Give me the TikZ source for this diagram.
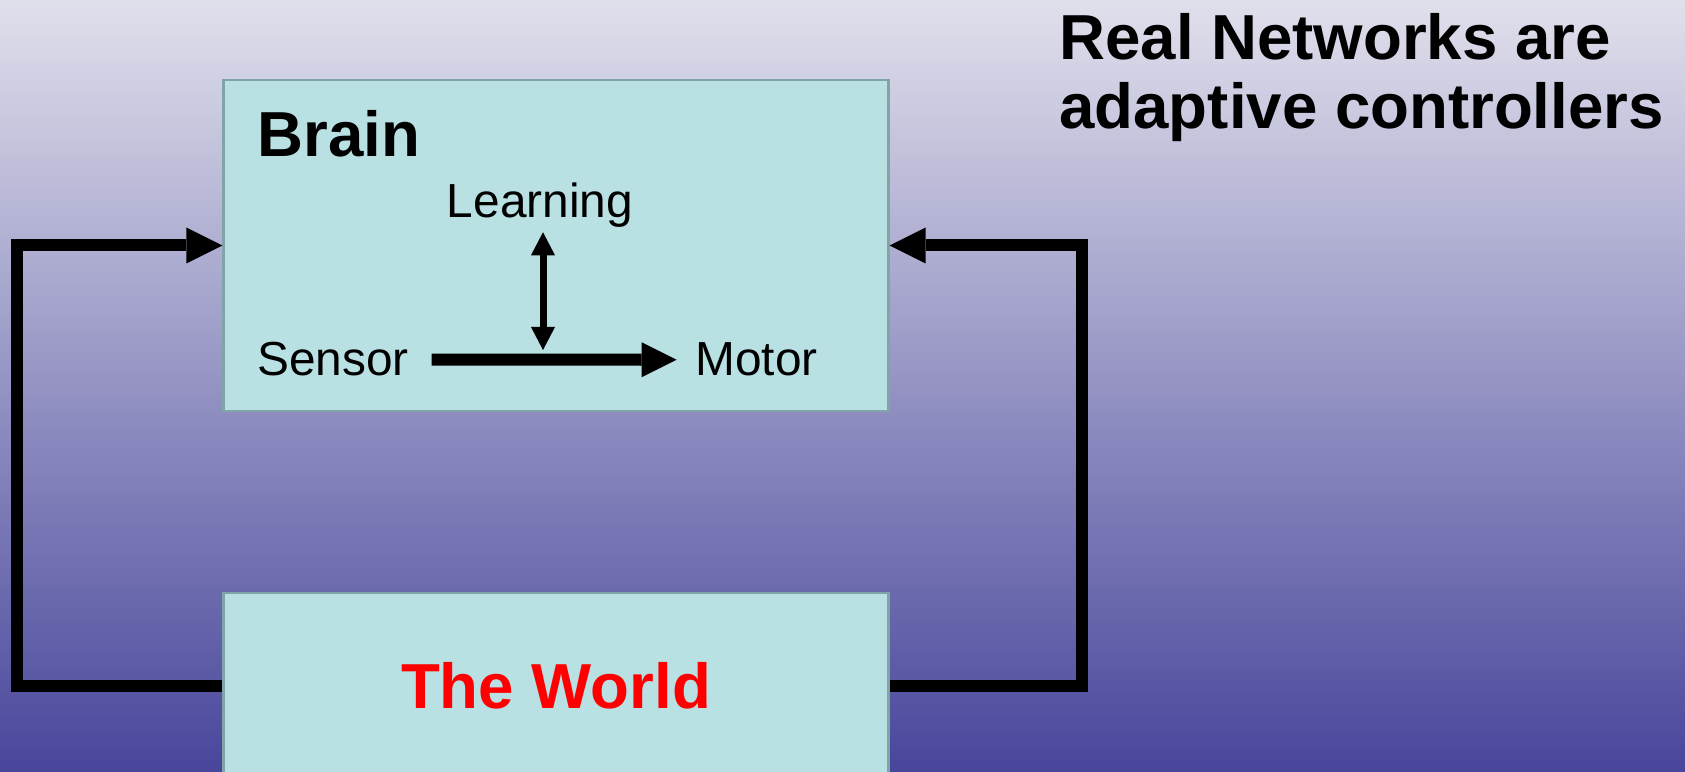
\documentclass[tikz,border=0pt]{standalone}
\usepackage{fontspec}
\setmainfont{Liberation Sans}
\usetikzlibrary{arrows.meta, positioning}

\definecolor{boxfill}{RGB}{185,224,226}
\definecolor{boxline}{RGB}{128,164,168}
\definecolor{skytop}{RGB}{224,224,236}
\definecolor{skybottom}{RGB}{72,70,155}

\begin{document}
\begin{tikzpicture}[
        block/.style={draw=boxline, line width=1.2pt, fill=boxfill, minimum width=13.3cm, inner sep=0pt},
        heading/.style={font=\fontsize{36.2}{39.5}\selectfont\bfseries, inner sep=0pt},
        word/.style={font=\fontsize{27.2}{31}\selectfont, inner sep=0pt},
        feedback/.style={-{Triangle[length=7.2mm, width=7.2mm, line width=0pt]}, line width=2.4mm, line join=miter},
        flow/.style={-{Triangle[length=7mm, width=7mm, line width=0pt]}, line width=2.4mm},
        learn/.style={{Triangle[length=4.6mm, width=4.8mm, line width=0pt]}-{Triangle[length=4.6mm, width=4.8mm, line width=0pt]}, line width=1.4mm}
        ]

        % Background
        \useasboundingbox (0,0) rectangle (33.7,15.44);
        \clip (0,0) rectangle (33.7,15.44);
        \shade[top color=skytop, bottom color=skybottom] (0,0) rectangle (33.7,15.44);

        % Nodes
        \node[block, minimum height=6.62cm] (brain) at (11.12,10.53) {};
        \node[block, heading, minimum height=3.72cm, text=red] (world) at (11.12,1.72) {The World};

        % Inside the brain
        \node[heading, anchor=base west] (brainname) at (5.14,12.31) {Brain};
        \node[word, anchor=base west] (learning) at (8.93,11.09) {Learning};
        \node[word, anchor=base west] (sensor) at (5.14,7.92) {Sensor};
        \node[word, base right=5.72cm of sensor] (motor) {Motor};
        \coordinate (tap) at (10.86,8.44);

        % Arrows
        \draw[flow] ([xshift=4.5mm]sensor.east) -- ([xshift=-3.7mm]motor.west);
        \draw[learn] ([yshift=-0.9mm]learning.south -| tap) -- (tap);

        % Loop through the world
        \coordinate (leftturn) at (0.33,10.53);
        \coordinate (rightturn) at (21.64,10.53);
        \draw[feedback] (world.west) -| (leftturn) -- (brain.west);
        \draw[feedback] (world.east) -| (rightturn) -- (brain.east);

        % Labels
        \node[heading, anchor=north west, align=left] (title) at (21.18,15.18) {Real Networks are\\adaptive controllers};
    \end{tikzpicture}
\end{document}
